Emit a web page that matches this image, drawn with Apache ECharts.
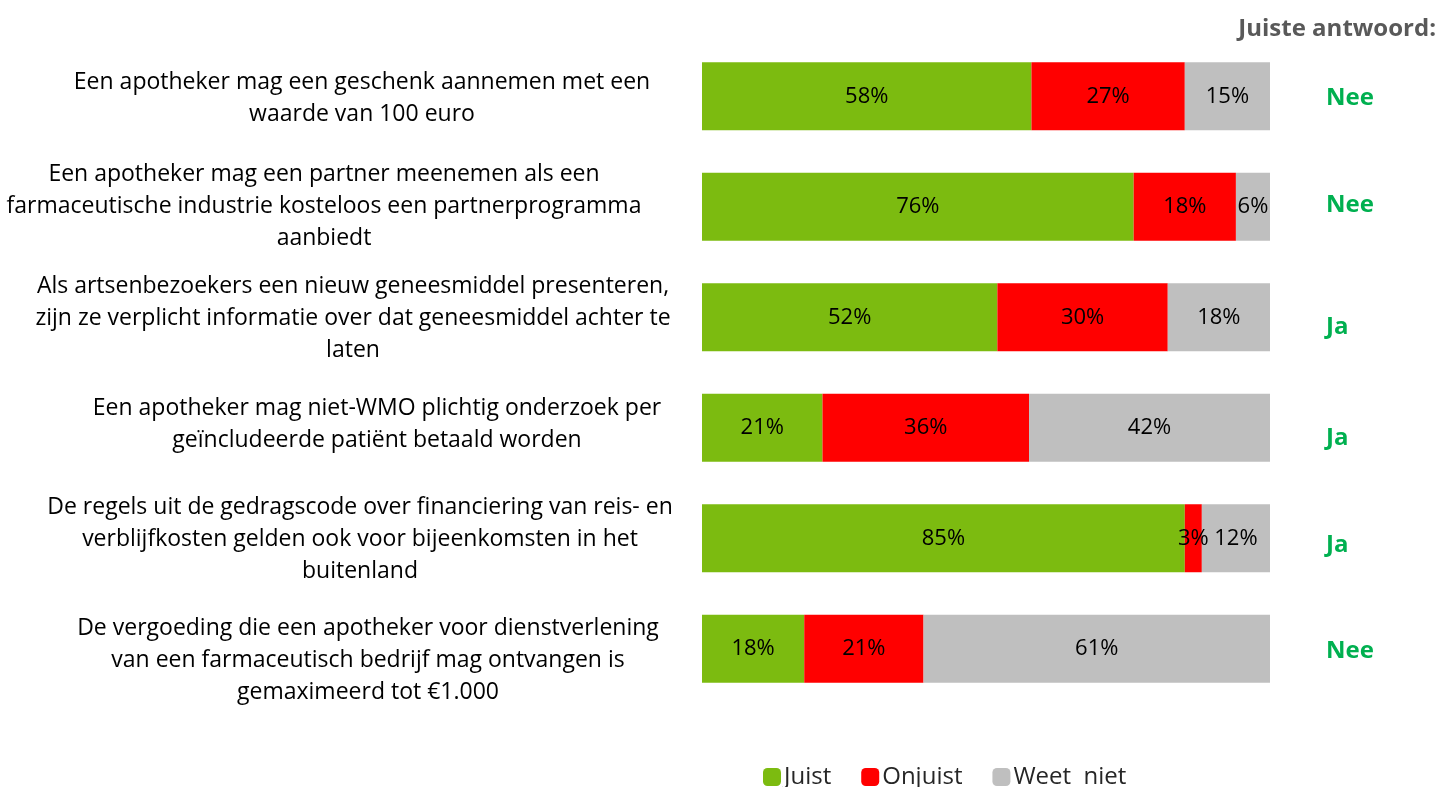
<!DOCTYPE html>
<html><head><meta charset="utf-8">
<script src="https://cdn.jsdelivr.net/npm/echarts@6/dist/echarts.min.js"></script>
<style>html,body{margin:0;padding:0;background:#fff}#c{width:1441px;height:787px}</style>
</head><body><div id="c"></div>
<script>
const categories = [
  "Een apotheker mag een geschenk aannemen met een\nwaarde van 100 euro",
  "Een apotheker mag een partner meenemen als een\nfarmaceutische industrie kosteloos een partnerprogramma\naanbiedt",
  "Als artsenbezoekers een nieuw geneesmiddel presenteren,\nzijn ze verplicht informatie over dat geneesmiddel achter te\nlaten",
  "Een apotheker mag niet-WMO plichtig onderzoek per\ngeïncludeerde patiënt betaald worden",
  "De regels uit de gedragscode over financiering van reis- en\nverblijfkosten gelden ook voor bijeenkomsten in het\nbuitenland",
  "De vergoeding die een apotheker voor dienstverlening\nvan een farmaceutisch bedrijf mag ontvangen is\ngemaximeerd tot €1.000"
];
const answers = ["Nee", "Nee", "Ja", "Ja", "Ja", "Nee"];
const juist = [58, 76, 52, 21, 85, 18];
const onjuist = [27, 18, 30, 36, 3, 21];
const weetNiet = [15, 6, 18, 42, 12, 61];
const seriesNames = ["Juist", "Onjuist", "Weet  niet"];
const colors = ["#7CBB10", "#FF0000", "#BFBFBF"];

// layout only: label offsets in px [dx, dy]
const labelShift = [[2, 2], [-36, 0], [-7, 1], [17, -3], [0, 1], [8, 12]];
const answerShift = [2, -2, 10, 10, 7, 2];

const raw = [juist, onjuist, weetNiet];
const totals = juist.map((_, i) => juist[i] + onjuist[i] + weetNiet[i]);
const FONT = "Open Sans";

// vertical offset via a spacer line of height 2*|dy|
function spaced(text, key, dy) {
  if (dy > 0) return '{sp' + dy + '| }\n{' + key + '|' + text + '}';
  if (dy < 0) return '{' + key + '|' + text + '}\n{sp' + (-dy) + '| }';
  return '{' + key + '|' + text + '}';
}
const richBase = {};
for (let k = 1; k <= 20; k++) richBase['sp' + k] = { fontSize: 1, lineHeight: 2 * k };

const catData = categories.map((c, i) => {
  const dx = labelShift[i][0];
  return { value: c, textStyle: { align: 'center', padding: [0, dx < 0 ? -2 * dx : 0, 0, dx > 0 ? 2 * dx : 0] } };
});

const chart = echarts.init(document.getElementById('c'));
chart.setOption({
  animation: false,
  textStyle: { fontFamily: FONT },
  title: {
    text: "Juiste antwoord:", right: 0, top: 12,
    textStyle: { fontFamily: FONT, fontSize: 24, fontWeight: 'bold', color: '#595959' }
  },
  legend: {
    top: 760, left: 758, itemWidth: 18, itemHeight: 18, itemGap: 30,
    icon: 'roundRect',
    textStyle: { fontFamily: FONT, fontSize: 24, color: '#262626', padding: [0, 0, 0, -2] },
    data: seriesNames
  },
  grid: { left: 702, right: 171, top: 41, bottom: 83, containLabel: false, outerBoundsMode: 'none' },
  xAxis: { type: 'value', min: 0, max: 100, show: false },
  yAxis: [
    {
      type: 'category', inverse: true, data: catData,
      axisLine: { show: false }, axisTick: { show: false },
      axisLabel: {
        align: 'center', margin: 342, color: '#000', fontFamily: FONT,
        formatter: (v, i) => spaced(v, 't', labelShift[i][1]),
        rich: Object.assign({ t: { fontSize: 23, lineHeight: 32, color: '#000', fontFamily: FONT, align: 'center' } }, richBase)
      }
    },
    {
      type: 'category', inverse: true, position: 'right', data: answers,
      axisLine: { show: false }, axisTick: { show: false },
      axisLabel: {
        align: 'left', margin: 56, fontFamily: FONT,
        formatter: (v, i) => spaced(v, 'a', answerShift[i]),
        rich: Object.assign({ a: { fontSize: 24, lineHeight: 30, fontWeight: 'bold', color: '#00B050', fontFamily: FONT } }, richBase)
      }
    }
  ],
  series: raw.map((arr, s) => ({
    name: seriesNames[s], type: 'bar', stack: 'total', barWidth: 68,
    itemStyle: { color: colors[s] },
    data: arr.map((v, i) => v / totals[i] * 100),
    label: {
      show: true, position: 'inside', fontSize: 22, color: '#000', fontFamily: FONT,
      formatter: p => arr[p.dataIndex] + '%'
    }
  }))
});
</script></body></html>
